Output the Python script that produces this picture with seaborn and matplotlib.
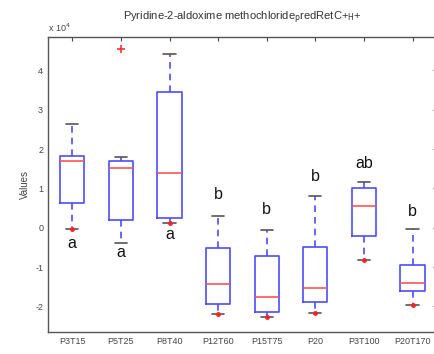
import numpy as np
import pandas as pd
import seaborn as sns
import matplotlib
matplotlib.use("Agg")
import matplotlib.pyplot as plt

sns.set_style("white")
plt.rcParams['font.family'] = ['Liberation Sans', 'DejaVu Sans']
plt.rcParams['axes.unicode_minus'] = False

# values in units of 1e4
groups = ["P3T15", "P5T25", "P8T40", "P12T60", "P15T75", "P20", "P3T100", "P20T170"]
whisk_lo = [-0.04, -0.38, 0.12, -2.20, -2.27, -2.16, -0.81, -1.97]
q1       = [0.62, 0.19, 0.26, -1.93, -2.14, -1.88, -0.22, -1.61]
median   = [1.70, 1.52, 1.40, -1.44, -1.76, -1.53, 0.56, -1.40]
q3       = [1.81, 1.70, 3.46, -0.51, -0.73, -0.49, 1.02, -0.95]
whisk_hi = [2.63, 1.79, 4.41, 0.30, -0.06, 0.80, 1.17, -0.03]

outlier_group = ["P5T25"]
outlier_val = [4.53]
# red dots sitting on the lower whisker ends
dot_groups = ["P3T15", "P8T40", "P12T60", "P15T75", "P20", "P3T100", "P20T170"]

letters = ["a", "a", "a", "b", "b", "b", "ab", "b"]
letter_y = [-0.40, -0.63, -0.18, 0.84, 0.46, 1.29, 1.62, 0.41]

rows = []
for i, g in enumerate(groups):
    for v in (whisk_lo[i], q1[i], median[i], q3[i], whisk_hi[i]):
        rows.append({"group": g, "value": v})
df = pd.DataFrame(rows)

fig = plt.figure(figsize=(4.34, 3.54), dpi=100)
ax = fig.add_axes([0.1106, 0.062, 0.896, 0.834])

blue = "#4d4dff"
sns.boxplot(data=df, x="group", y="value", order=groups, whis=(0, 100), width=0.5,
            fill=False, linewidth=1.2, ax=ax,
            boxprops=dict(color=blue),
            whiskerprops=dict(color=blue, linestyle=(0, (4, 3))),
            capprops=dict(color="#555555"),
            medianprops=dict(color="#ff5555"),
            showfliers=False)

for g, v in zip(outlier_group, outlier_val):
    ax.plot(groups.index(g), v, marker="+", color="#ff3333", ms=6, mew=1.2, ls="none")
for g in dot_groups:
    i = groups.index(g)
    ax.plot(i, whisk_lo[i], marker="o", color="#ff2222", ms=2.5, ls="none")

for i, (t, y) in enumerate(zip(letters, letter_y)):
    ax.text(i, y, t, ha="center", va="center", fontsize=11.5, color="#111111")

ax.set_xlim(-0.5, 7.5)
ax.set_ylim(-2.65, 4.85)
ax.set_yticks([-2, -1, 0, 1, 2, 3, 4])
ax.set_xlabel("")
ax.set_ylabel("Values", fontsize=7, color="#444444")
ax.tick_params(direction="in", top=True, right=True, length=3, width=0.8,
               labelsize=6.5, colors="#444444")
for s in ax.spines.values():
    s.set_color("#555555")
    s.set_linewidth(1.0)

ax.set_title(r"Pyridine-2-aldoxime methochloride$_{\rm p}$redRetC+$_{\rm H}$+",
             fontsize=8, color="#333333", pad=12)
ax.text(0.0, 1.01, r"x 10$^4$", transform=ax.transAxes, fontsize=6.5,
        color="#444444", ha="left", va="bottom")

fig.savefig("out.png", dpi=100)
